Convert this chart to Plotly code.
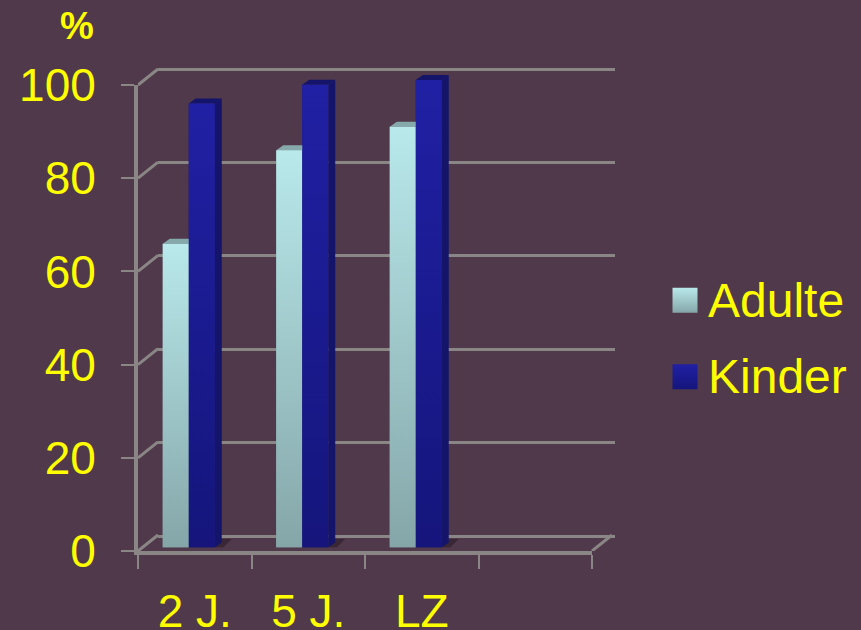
import plotly.graph_objects as go

categories = ["2 J.", "5 J.", "LZ"]
adulte = [65, 85, 90]
kinder = [95, 99, 100]
y_ticks = [0, 20, 40, 60, 80, 100]
series_names = ["Adulte", "Kinder"]

W, H = 861, 630
BG = "#4f394a"
GRID = "#8b8686"
YELLOW = "#ffff00"
FONT = "Liberation Sans, Arial, sans-serif"
AD_TOP, AD_BOT, AD_DEPTH = "#b9e9eb", "#85a6a9", "#86a9ab"
KI_TOP, KI_BOT, KI_SIDE = "#2020a4", "#15157c", "#14146a"

BAR_W = 26 / 113.5
DX, DY = 7 / 113.5, 5 / 4.675


def xdom(a, b):
    return [a / W, b / W]


def ydom(bottom, top):
    return [1 - bottom / H, 1 - top / H]


hidden = dict(visible=False, fixedrange=True, automargin=False)
fig = go.Figure()

layout = dict(
    width=W, height=H, margin=dict(l=0, r=0, t=0, b=0, pad=0), autosize=False,
    paper_bgcolor=BG, plot_bgcolor="rgba(0,0,0,0)", showlegend=False, barmode="overlay",
    font=dict(family=FONT, color=YELLOW),
)

# back wall with gridlines (scale padded so the 0 and 100 lines are drawn)
back_unit = (536 - 69) / 100
layout["xaxis"] = dict(domain=xdom(158, 615), range=[0, 4], anchor="y", **hidden)
layout["yaxis"] = dict(domain=ydom(536 + 5 * back_unit, 69 - 5 * back_unit), range=[-5, 105], anchor="x",
                       showgrid=True, visible=True, automargin=False,
                       tickvals=y_ticks, gridcolor=GRID, gridwidth=3, zeroline=False, showline=False,
                       showticklabels=False, ticks="", fixedrange=True)
fig.add_trace(go.Scatter(x=[], y=[], xaxis="x", yaxis="y", hoverinfo="skip"))

# front axes, ticks, value labels
layout["xaxis2"] = dict(domain=xdom(138, 592), range=[0, 4], anchor="y2", tickvals=[0, 1, 2, 3, 4],
                        ticktext=["", "", "", "", ""], ticks="outside", ticklen=14, tickwidth=2, tickcolor=GRID,
                        automargin=False,
                        showline=True, linecolor=GRID, linewidth=4, showgrid=False, zeroline=False, fixedrange=True)
layout["yaxis2"] = dict(domain=ydom(551, 85), range=[0, 100], anchor="x2", tickvals=y_ticks, automargin=False,
                        ticks="outside", ticklen=13, tickwidth=2, tickcolor=GRID, ticklabelstandoff=16,
                        tickfont=dict(size=46, color=YELLOW, family=FONT),
                        showline=True, linecolor=GRID, linewidth=4, showgrid=False, zeroline=False, fixedrange=True)
fig.add_trace(go.Scatter(x=[], y=[], xaxis="x2", yaxis="y2", hoverinfo="skip"))

# wall diagonals, on a hidden copy of the front scale with room for the depth
layout["xaxis6"] = dict(domain=xdom(138, 138 + 4.3 * 113.5), range=[0, 4.3], anchor="y6", **hidden)
layout["yaxis6"] = dict(domain=ydom(551, 551 - 110 * 4.66), range=[0, 110], anchor="x6", **hidden)
dx_wall, dy_wall = 20 / 113.5, 16 / 4.66
diag_x, diag_y = [], []
for t in y_ticks:
    diag_x += [0, dx_wall, None]
    diag_y += [t, t + dy_wall, None]
diag_x += [4, 4 + dx_wall, None]
diag_y += [0, dy_wall, None]
fig.add_trace(go.Scatter(x=diag_x, y=diag_y, mode="lines", xaxis="x6", yaxis="y6",
                         line=dict(color=GRID, width=3), hoverinfo="skip"))

# the bars
layout["xaxis3"] = dict(domain=xdom(132, 586), range=[0, 4], anchor="y3", **hidden)
layout["yaxis3"] = dict(domain=ydom(547.5, 547.5 - 110 * 4.675), range=[0, 110], anchor="x3", **hidden)


def polygon(xs, ys, color=None, gradient=None, name=None):
    kw = dict(fillcolor=color) if color else dict(fillgradient=gradient, fillcolor=AD_BOT)
    fig.add_trace(go.Scatter(x=xs, y=ys, mode="lines", fill="toself", line=dict(width=0),
                             xaxis="x3", yaxis="y3", hoverinfo="skip", name=name, **kw))


def vgrad(top, bot):
    return dict(type="vertical", colorscale=[[0, bot], [1, top]])


centres = [i + 0.5 for i in range(len(categories))]
fig.add_trace(go.Bar(x=[c - BAR_W / 2 for c in centres], y=adulte, width=BAR_W, name=series_names[0],
                     marker=dict(color=AD_BOT, line=dict(width=0)), xaxis="x3", yaxis="y3"))
fig.add_trace(go.Bar(x=[c + BAR_W / 2 for c in centres], y=kinder, width=BAR_W, name=series_names[1],
                     marker=dict(color=KI_BOT, line=dict(width=0)), xaxis="x3", yaxis="y3"))

for c in centres:
    x1 = c + BAR_W
    polygon([x1, x1 + DX, x1 + 2.4 * DX, x1 + 1.2 * DX, x1], [0, 1.7 * DY, 1.7 * DY, 0, 0],
            color="rgba(50,32,44,0.7)")
for c, v in zip(centres, adulte):
    x0, x1 = c - BAR_W, c
    polygon([x0, x0 + DX, x1 + DX, x1, x0], [v, v + DY, v + DY, v, v], color=AD_DEPTH)
    polygon([x0, x1, x1, x0, x0], [0, 0, v, v, 0], gradient=vgrad(AD_TOP, AD_BOT))
for c, v in zip(centres, kinder):
    x0, x1 = c, c + BAR_W
    polygon([x1, x1 + DX, x1 + DX, x1, x1], [0, DY, v + DY, v, 0], color=KI_SIDE)
    polygon([x0, x0 + DX, x1 + DX, x1, x0], [v, v + DY, v + DY, v, v], color=KI_SIDE)
    polygon([x0, x1, x1, x0, x0], [0, 0, v, v, 0], gradient=vgrad(KI_TOP, KI_BOT))

# category labels
layout["xaxis4"] = dict(domain=xdom(138, 592), range=[0, 4], anchor="y4", tickvals=centres, ticktext=categories,
                        ticks="", ticklabelstandoff=29, tickfont=dict(size=46, color=YELLOW, family=FONT),
                        automargin=False,
                        showline=False, showgrid=False, zeroline=False, fixedrange=True)
layout["yaxis4"] = dict(domain=ydom(551, 85), range=[0, 100], anchor="x4", **hidden)
fig.add_trace(go.Scatter(x=[], y=[], xaxis="x4", yaxis="y4", hoverinfo="skip"))

# key
layout["xaxis5"] = dict(domain=xdom(672, 861), range=[0, 1], anchor="y5", **hidden)
layout["yaxis5"] = dict(domain=ydom(415, 262), range=[-0.5, 1.5], anchor="x5", **hidden)
key_rows = [1, 0]
fig.add_trace(go.Scatter(x=[13 / 189], y=[key_rows[0]], mode="markers", xaxis="x5", yaxis="y5", hoverinfo="skip",
                         marker=dict(symbol="square", size=25, color=AD_TOP, line=dict(width=0),
                                     gradient=dict(type="vertical", color=AD_BOT))))
fig.add_trace(go.Scatter(x=[13 / 189], y=[key_rows[1]], mode="markers", xaxis="x5", yaxis="y5", hoverinfo="skip",
                         marker=dict(symbol="square", size=25, color=KI_TOP, line=dict(width=0),
                                     gradient=dict(type="vertical", color=KI_BOT))))
fig.add_trace(go.Scatter(x=[36 / 189, 36 / 189], y=[r - 0.06 for r in key_rows], mode="text", text=series_names,
                         textposition="middle right", textfont=dict(size=48, color=YELLOW, family=FONT),
                         xaxis="x5", yaxis="y5", hoverinfo="skip", cliponaxis=False))

layout["annotations"] = [dict(text="<b>%</b>", xref="paper", yref="paper", x=77 / W, y=1 - 26 / H,
                              xanchor="center", yanchor="middle", showarrow=False,
                              font=dict(size=38, color=YELLOW, family=FONT))]
fig.update_layout(**layout)
fig.write_html("out.html", config=dict(displayModeBar=False),
               post_script="document.body.style.margin='0';document.body.style.background='%s';" % BG)
